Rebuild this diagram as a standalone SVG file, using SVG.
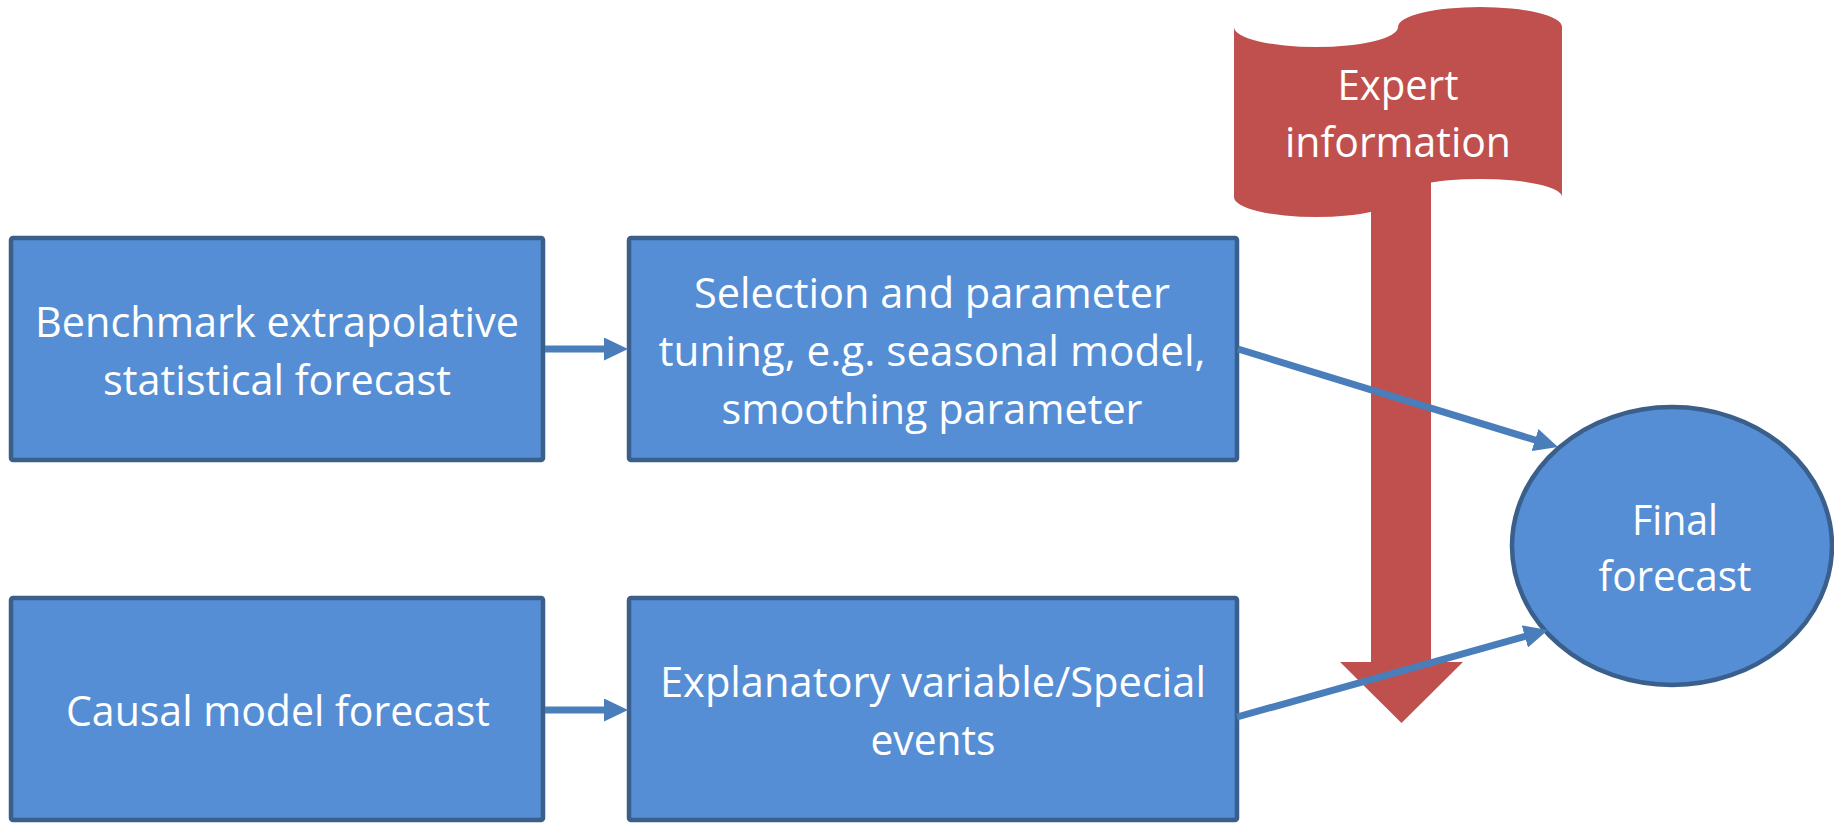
<svg xmlns="http://www.w3.org/2000/svg" width="1834" height="823" viewBox="0 0 1834 823">
  <style>
    .box { fill: #558ED5; stroke: #3A5F8B; stroke-width: 4.5; stroke-linejoin: round; }
    .lbl { font-family: "Open Sans", "Liberation Sans", sans-serif; font-size: 42px; fill: #FFFFFF; text-anchor: middle; }
    .red { fill: #C0504D; }
    .link { stroke: #4A7EBB; stroke-width: 7; fill: none; }
  </style>
  <defs>
    <marker id="head" markerUnits="userSpaceOnUse" markerWidth="24" markerHeight="23" refX="12" refY="11.5" orient="auto">
      <path d="M0,0 L24,11.5 L0,23 Z" fill="#4A7EBB"/>
    </marker>
  </defs>
  <rect width="1834" height="823" fill="#FFFFFF"/>

  <!-- expert input: wavy banner with a downward arrow -->
  <g id="expert">
    <polygon class="red" points="1371,150 1431,150 1431,662 1463,662 1401.5,723 1340,662 1371,662"/>
    <path class="red" d="M1234,27 A82,20 0 0 0 1398,27 A82,20 0 0 1 1562,27 L1562,197 A82,18 0 0 0 1398,197 A82,20 0 0 1 1234,197 Z"/>
    <text class="lbl" x="1398" y="100" textLength="121" lengthAdjust="spacingAndGlyphs">Expert</text>
    <text class="lbl" x="1398" y="157" textLength="226" lengthAdjust="spacingAndGlyphs">information</text>
  </g>

  <g id="benchmark">
    <rect class="box" x="11" y="238" width="532" height="222" rx="2"/>
    <text class="lbl" x="277" y="337" textLength="484" lengthAdjust="spacingAndGlyphs">Benchmark extrapolative</text>
    <text class="lbl" x="277" y="395" textLength="348" lengthAdjust="spacingAndGlyphs">statistical forecast</text>
  </g>

  <g id="selection">
    <rect class="box" x="629" y="238" width="608" height="222" rx="2"/>
    <text class="lbl" x="932" y="308" textLength="476" lengthAdjust="spacingAndGlyphs">Selection and parameter</text>
    <text class="lbl" x="932" y="366" textLength="547" lengthAdjust="spacingAndGlyphs">tuning, e.g. seasonal model,</text>
    <text class="lbl" x="932" y="424" textLength="421" lengthAdjust="spacingAndGlyphs">smoothing parameter</text>
  </g>

  <g id="causal">
    <rect class="box" x="11" y="598" width="532" height="222" rx="2"/>
    <text class="lbl" x="278" y="726" textLength="424" lengthAdjust="spacingAndGlyphs">Causal model forecast</text>
  </g>

  <g id="explanatory">
    <rect class="box" x="629" y="598" width="608" height="222" rx="2"/>
    <text class="lbl" x="933" y="697" textLength="546" lengthAdjust="spacingAndGlyphs">Explanatory variable/Special</text>
    <text class="lbl" x="933" y="755" textLength="125" lengthAdjust="spacingAndGlyphs">events</text>
  </g>

  <g id="final">
    <ellipse class="box" cx="1672" cy="546" rx="160" ry="139"/>
    <text class="lbl" x="1675" y="535" textLength="86" lengthAdjust="spacingAndGlyphs">Final</text>
    <text class="lbl" x="1675" y="591" textLength="153" lengthAdjust="spacingAndGlyphs">forecast</text>
  </g>

  <g id="connectors">
    <line class="link" x1="545" y1="349" x2="616" y2="349" marker-end="url(#head)"/>
    <line class="link" x1="545" y1="710" x2="616" y2="710" marker-end="url(#head)"/>
    <line class="link" x1="1238" y1="349" x2="1546.5" y2="443.5" marker-end="url(#head)"/>
    <line class="link" x1="1237" y1="717" x2="1536.4" y2="633.2" marker-end="url(#head)"/>
  </g>
</svg>
